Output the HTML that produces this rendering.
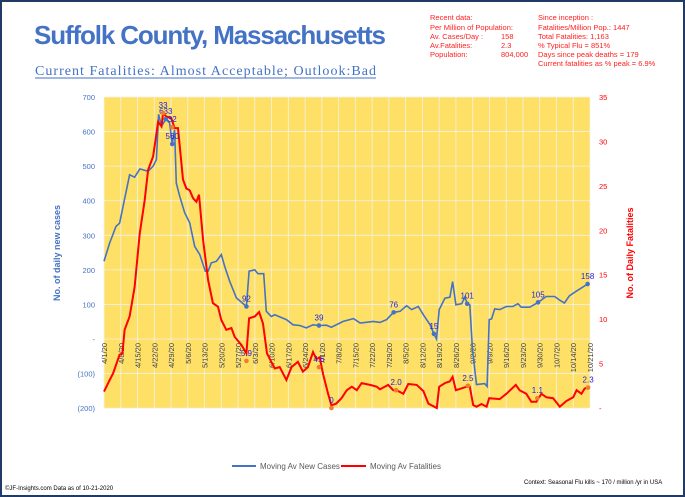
<!DOCTYPE html>
<html><head><meta charset="utf-8"><style>
body{margin:0;width:685px;height:497px;overflow:hidden;background:#fff;font-family:"Liberation Sans",sans-serif}
#f{position:absolute;left:0;top:0;width:681px;height:493px;border:2px solid #1f3b66}
</style></head><body>
<div id="f"></div>
<svg id="s" width="685" height="497" style="position:absolute;left:0;top:0" font-family="Liberation Sans, sans-serif">
<text x="34" y="44" font-size="26" font-weight="bold" fill="#4472c4" textLength="352">Suffolk County, Massachusetts</text>
<text x="35" y="75" font-size="14" fill="#4472c4" font-family="Liberation Serif, serif" textLength="341">Current Fatalities: Almost Acceptable; Outlook:Bad</text>
<line x1="35" y1="78" x2="376" y2="78" stroke="#4472c4" stroke-width="1"/>
<g font-size="7.5" fill="#ff2020">
<text x="430" y="20">Recent data:</text><text x="538" y="20">Since inception :</text>
<text x="430" y="30">Per Million of Population:</text><text x="538" y="30">Fatalities/Million Pop.: 1447</text>
<text x="430" y="39">Av. Cases/Day :</text><text x="501" y="39">158</text><text x="538" y="39">Total Fatalities: 1,163</text>
<text x="430" y="48">Av.Fatalities:</text><text x="501" y="48">2.3</text><text x="538" y="48">% Typical Flu = 851%</text>
<text x="430" y="57">Population:</text><text x="501" y="57">804,000</text><text x="538" y="57">Days since peak deaths = 179</text>
<text x="538" y="66">Current fatalities as % peak = 6.9%</text>
</g>
<rect x="104" y="97" width="486" height="311" fill="#ffe066"/>
<g id="grid" stroke="#f2f2e8" stroke-width="0.8"></g>
<g id="ax"></g>
<polyline id="bl" fill="none" stroke="#4472c4" stroke-width="1.6"/>
<polyline id="rd" fill="none" stroke="#ff0000" stroke-width="2"/>
<g id="mk"></g>
<text transform="translate(60,253) rotate(-90)" font-size="9" font-weight="bold" fill="#4472c4" text-anchor="middle">No. of daily new  cases</text>
<text transform="translate(633,253) rotate(-90)" font-size="9" font-weight="bold" fill="#ff0000" text-anchor="middle">No. of Daily Fatalities</text>
<line x1="232" y1="466" x2="256" y2="466" stroke="#4472c4" stroke-width="2"/>
<text x="260" y="469" font-size="8" fill="#595959">Moving Av New Cases</text>
<line x1="341" y1="466" x2="366" y2="466" stroke="#ff0000" stroke-width="2"/>
<text x="370" y="469" font-size="8" fill="#595959">Moving Av Fatalities</text>
<text x="5" y="490" font-size="6" fill="#000">©JF-Insights.com  Data as of 10-21-2020</text>
<text x="524" y="484" font-size="6" fill="#000">Context: Seasonal Flu kills ~ 170 / million /yr in USA</text>
</svg>
<script>
const X=d=>104+d*486/203, Y=v=>339-v*0.3457, F=f=>408-f*8.886;
const ns="http://www.w3.org/2000/svg";
function el(p,t,a,txt){const e=document.createElementNS(ns,t);for(const k in a)e.setAttribute(k,a[k]);if(txt!=null)e.textContent=txt;document.getElementById(p).appendChild(e);return e;}
for(let v=-200;v<=700;v+=100){el('grid','line',{x1:104,x2:590,y1:Y(v),y2:Y(v)});
 el('ax','text',{x:95,y:Y(v)+3,'font-size':7.5,fill:'#4472c4','text-anchor':'end'},v<0?'('+(-v)+')':v==0?'-':v);}
for(let f=0;f<=35;f+=5){el('ax','text',{x:599,y:F(f)+3,'font-size':7.5,fill:'#ff0000'},f==0?'-':f);}
const m0=new Date(2020,3,1);
for(let d=0;d<=203;d+=7){const x=X(d);el('grid','line',{x1:x,x2:x,y1:97,y2:408});
 const dt=new Date(m0.getTime()+d*864e5);const s=(dt.getMonth()+1)+'/'+dt.getDate()+'/20';
 el('ax','text',{transform:`translate(${x+3},343) rotate(-90)`,'font-size':7.5,fill:'#404040','text-anchor':'end'},s);}
const B=[[0,225],[2.4,278],[5,326],[6.5,335],[10.7,475],[12.8,468],[15,492],[18.4,485],[20.5,500],[21.9,519],[22.8,650],[24,615],[25.8,636],[27.4,625],[28.5,564],[29.5,605],[30.2,451],[31.6,413],[33.7,365],[35.8,336],[37.9,268],[40,244],[42.3,196],[43.5,196],[44.8,220],[47,225],[49,244],[50.4,210],[52.5,167],[55.3,119],[59.5,94],[60.6,196],[63,200],[64.3,189],[66.7,189],[67.8,80],[69.9,65],[71.3,70],[76.2,56],[79,41],[81.8,39],[84.5,32],[87.3,41],[89.8,39],[92.9,40],[95,34],[99.9,51],[104.2,59],[107,46],[112.5,51],[115.3,48],[118.1,56],[120.9,77],[123.7,80],[126.4,96],[128.5,85],[131.3,94],[133.4,70],[136.2,41],[137.8,15],[138.9,0],[140,85],[142.4,118],[144.5,121],[145.6,166],[147,99],[149.4,102],[150.7,121],[151.7,102],[152.8,99],[153.9,-31],[155.6,-132],[159,-129],[160,-137],[160.9,56],[161.9,58],[163.2,87],[165.3,85],[168.1,94],[170.8,94],[172.9,102],[174.3,92],[177.8,92],[181.3,106],[184.7,123],[188.2,123],[190.2,113],[192.3,104],[194.4,125],[197.2,138],[200,150],[202,159]];
const R=[[0,1.84],[2.4,3.15],[3.8,3.9],[6.5,6],[7.7,6.15],[8.6,8.8],[10.7,10.3],[12.8,13.6],[14.9,19.6],[17,23.4],[18.4,26.8],[20.5,28.3],[22.6,32.2],[24,31.7],[24.7,33.2],[26,32.8],[28.1,32.6],[29.5,31.5],[30.9,31.5],[33,25.7],[34.4,24.7],[35.8,24.5],[37.2,23.6],[38.6,23.2],[39.7,24],[41.4,18.9],[43.5,14.4],[45.5,11.8],[47.6,11.4],[49,9.9],[51.1,8.8],[53.2,9],[54.6,8],[57.4,7.1],[59.5,6.15],[60.6,10.1],[63,10.3],[64.8,10.8],[66.4,9.5],[68.1,6.15],[71.3,4.45],[73.4,4.6],[76.2,3.15],[78.3,4.6],[81,5.2],[83.1,4.1],[85.2,4.6],[87.3,6.3],[88.7,5.5],[90.1,5.7],[91.5,3.8],[93.6,1.6],[95,0.3],[97,0.5],[99.2,1.1],[101.4,2],[103.5,2.4],[105.6,2],[107.6,2.8],[111.1,2.6],[113.9,2.4],[115.3,2.1],[118.7,2.6],[120.8,2],[122.9,1.9],[125,1.6],[127.1,2.7],[130.6,2.6],[133.4,1.9],[135.5,0.5],[139,0],[140,2.4],[142.4,2.8],[144.5,3],[145.6,3.5],[147,2],[151.5,2.4],[152.8,2.4],[154.2,0.33],[155.6,0.15],[157.7,0.45],[159.8,0.15],[160.9,1.1],[165.3,1],[168.1,1.6],[170.8,2.3],[172,2.6],[173.6,2],[176.4,1.6],[178.5,0.7],[180.6,0.7],[182.7,1.6],[184.8,1.2],[187.6,1.1],[190.4,0.15],[193.2,0.8],[196,1.2],[197.4,2],[199.4,1.6],[200.8,2.2],[202.2,2.3]];
document.getElementById('bl').setAttribute('points',B.map(p=>X(p[0]).toFixed(1)+','+Y(p[1]).toFixed(1)).join(' '));
document.getElementById('rd').setAttribute('points',R.map(p=>X(p[0]).toFixed(1)+','+F(p[1]).toFixed(1)).join(' '));
const bm=[[25.8,636,'633'],[28.5,564,'560'],[59.5,94,'92'],[89.8,39,'39'],[121,77,'76'],[137.8,15,'15'],[151.7,102,'101'],[181.3,106,'105'],[202,159,'158']];
bm.forEach(p=>{el('mk','circle',{cx:X(p[0]),cy:Y(p[1]),r:2.3,fill:'#4472c4'});el('mk','text',{x:X(p[0]),y:Y(p[1])-5,'font-size':8,fill:'#2020e0','text-anchor':'middle'},p[2]);});
const rm=[[24.7,33.2,'33'],[28.5,31.6,'32'],[59.5,5.3,'5.9'],[89.8,4.6,'4.6'],[95,0,'0'],[122,2,'2.0'],[152,2.5,'2.5'],[181,1.1,'1.1'],[202.2,2.3,'2.3']];
rm.forEach(p=>{el('mk','circle',{cx:X(p[0]),cy:F(p[1]),r:2.3,fill:'#ed7d31'});el('mk','text',{x:X(p[0]),y:F(p[1])-5,'font-size':8,fill:'#2020e0','text-anchor':'middle'},p[2]);});
</script>
</body></html>
